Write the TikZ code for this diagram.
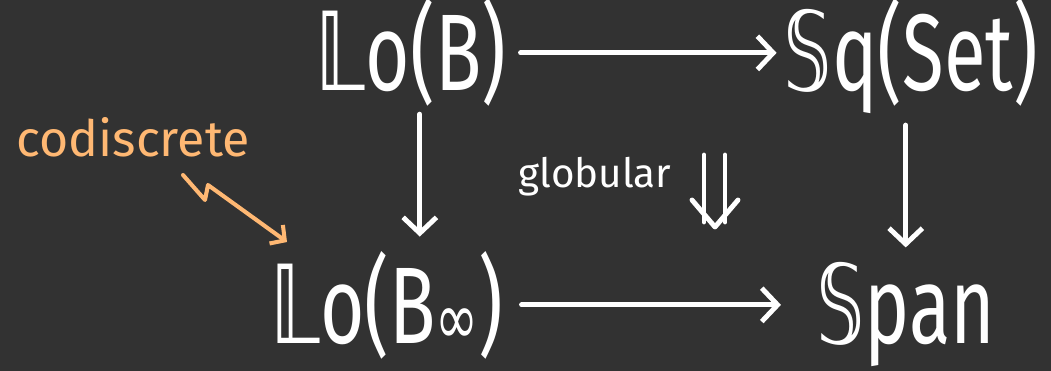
\documentclass[tikz,border=0pt]{standalone}
\usepackage{fontspec}
\setmainfont{Fira Sans}
\newfontfamily\dsfont{DejaVu Sans}
\usetikzlibrary{arrows.meta,calc}
\definecolor{bgdark}{RGB}{50,50,50}
\definecolor{peach}{RGB}{255,184,115}
\newcommand{\bigtext}{\fontsize{62}{70}\selectfont}
\newcommand{\narrowtext}[1]{\scalebox{0.7}[1]{#1}}
\newcommand{\dbL}{{\dsfont 𝕃}}
\newcommand{\dbS}{{\dsfont 𝕊}}

\begin{document}
\begin{tikzpicture}[x=0.02cm,y=-0.02cm,line cap=round,line join=round,
  obj/.style={text=white,font=\bigtext,inner sep=0pt,anchor=base},
  lbl/.style={text=white,font=\fontsize{23}{26}\selectfont,inner sep=0pt,anchor=base},
  arr/.style={white,line width=2.8pt,-{Straight Barb[length=9pt,width=19pt]}},
  cdarr/.style={peach,line width=2.3pt,-{Straight Barb[length=6pt,width=13pt]}}]
  \useasboundingbox (0,0) rectangle (1051,371);
  \fill[bgdark] (0,0) rectangle (1051,371);
  \node[obj] (LoB) at (411,91) {\narrowtext{\dbL o(B)}};
  \node[obj] (SqSet) at (911,91) {\narrowtext{\dbS q(Set)}};
  \node[obj] (LoBinf) at (387,343) {\narrowtext{\dbL o(B\raisebox{-1pt}{\fontsize{42}{42}\selectfont\dsfont ∞})}};
  \node[obj] (Span) at (906,343) {\narrowtext{\dbS pan}};
  \node[lbl] (glob) at (595,188) {globular};
  \node[lbl,text=peach,font=\fontsize{28.5}{30}\selectfont] (cd) at (133,157) {codiscrete};
  % the four sides of the square
  \draw[arr,shorten <=8pt,shorten >=4pt] (LoB.east) -- (LoB.east -| SqSet.west);
  \draw[arr,shorten <=10pt,shorten >=20pt] (LoBinf.east) -- (LoBinf.east -| Span.west);
  \draw[arr,shorten <=4pt,shorten >=8pt] ([xshift=5pt]LoB.south) -- ([xshift=5pt]LoB.south |- LoBinf.north);
  \draw[arr,shorten <=6pt,shorten >=8pt] ([xshift=-3pt]SqSet.south) -- ([xshift=-3pt]SqSet.south |- Span.north);
  % the 2-cell
  \coordinate (dl0) at (704,155);
  \coordinate (dl1) at (704,222);
  \coordinate (dr0) at (725,155);
  \coordinate (dr1) at (725,222);
  \draw[white,line width=2.8pt] (dl0) -- (dl1);
  \draw[white,line width=2.8pt] (dr0) -- (dr1);
  \draw[white,line width=2.8pt] (692,200) -- (715,227) -- (738,200);
  % squiggle
  \coordinate (z0) at (183,175);
  \coordinate (z1) at (205,200);
  \coordinate (z2) at (208,185);
  \coordinate (z3) at (287,242);
  \draw[cdarr] (z0) -- (z1) -- (z2) -- (z3);
\end{tikzpicture}
\end{document}
